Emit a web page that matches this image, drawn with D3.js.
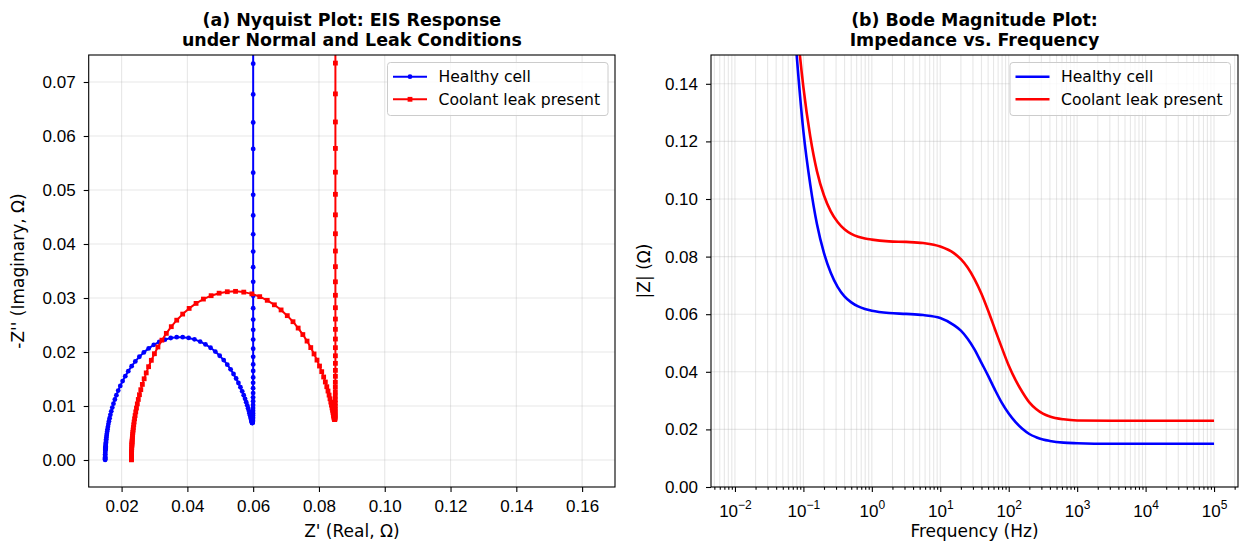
<!DOCTYPE html>
<html lang="en">
<head>
<meta charset="UTF-8">
<title>EIS Response: Nyquist and Bode</title>
<script src="https://d3js.org/d3.v7.min.js"></script>
<style>
    body {
        margin: 0;
        background: #ffffff;
    }

    svg {
        display: block;
        font-family: "DejaVu Sans", sans-serif;
    }

    .tick text {
        font-size: 17px;
        fill: #000;
    }

    .tick line {
        stroke: #000;
        stroke-width: 1.1;
    }

    .grid line {
        stroke: #b0b0b0;
        stroke-opacity: 0.3;
        stroke-width: 1.1;
    }

    .title {
        font-size: 17.4px;
        font-weight: bold;
        text-anchor: middle;
    }

    .axis-label {
        font-size: 17px;
        text-anchor: middle;
    }

    .legend text {
        font-size: 15.6px;
    }
</style>
</head>
<body>
<div id="chart"></div>
<script>
// Nyquist points, low frequency (top of the tail) first
const healthyReal = [
    0.0600, 0.0600, 0.0600, 0.0600, 0.0600, 0.0600, 0.0600, 0.0600, 0.0600, 0.0600,
    0.0600, 0.0600, 0.0600, 0.0600, 0.0600, 0.0600, 0.0600, 0.0600, 0.0600, 0.0600,
    0.0600, 0.0600, 0.05998, 0.05998, 0.05998, 0.05997, 0.05997, 0.05996, 0.05995, 0.05995,
    0.05994, 0.05993, 0.05991, 0.05990, 0.05988, 0.05986, 0.05984, 0.05981, 0.05977, 0.05973,
    0.05969, 0.05963, 0.05957, 0.05949, 0.05940, 0.05930, 0.05918, 0.05904, 0.05887, 0.05868,
    0.05845, 0.05819, 0.05789, 0.05754, 0.05713, 0.05667, 0.05613, 0.05552, 0.05482, 0.05403,
    0.05314, 0.05214, 0.05104, 0.04982, 0.04849, 0.04704, 0.04550, 0.04387, 0.04215, 0.04038,
    0.03857, 0.03675, 0.03494, 0.03316, 0.03144, 0.02979, 0.02823, 0.02676, 0.02541, 0.02417,
    0.02305, 0.02203, 0.02112, 0.02031, 0.01960, 0.01897, 0.01842, 0.01795, 0.01753, 0.01717,
    0.01686, 0.01659, 0.01636, 0.01616, 0.01599, 0.01585, 0.01572, 0.01562, 0.01552, 0.01545,
    0.01538, 0.01532, 0.01528, 0.01524, 0.01520, 0.01517, 0.01515, 0.01512, 0.01511, 0.01509,
    0.01508, 0.01506, 0.01504, 0.01502, 0.01501, 0.01501, 0.01500, 0.01500, 0.01500
];
const healthyImag = [
    0.0796, 0.0734, 0.0677, 0.0625, 0.0576, 0.0532, 0.0491, 0.0453, 0.0418, 0.0386,
    0.0357, 0.0330, 0.0304, 0.0281, 0.0260, 0.0241, 0.0223, 0.0206, 0.0191, 0.0177,
    0.0165, 0.0153, 0.0143, 0.0133, 0.0124, 0.0116, 0.0109, 0.0102, 0.00965, 0.00913,
    0.00867, 0.00827, 0.00792, 0.00762, 0.00738, 0.00718, 0.00702, 0.00692, 0.00686, 0.00684,
    0.00686, 0.00693, 0.00704, 0.00720, 0.00740, 0.00765, 0.00794, 0.00828, 0.00867, 0.00910,
    0.00958, 0.01012, 0.01069, 0.01132, 0.01199, 0.01271, 0.01347, 0.01426, 0.01509, 0.01593,
    0.01679, 0.01765, 0.01850, 0.01931, 0.02008, 0.02079, 0.02141, 0.02193, 0.02234, 0.02261,
    0.02275, 0.02274, 0.02259, 0.02229, 0.02187, 0.02132, 0.02067, 0.01993, 0.01912, 0.01826,
    0.01737, 0.01645, 0.01553, 0.01462, 0.01372, 0.01285, 0.01201, 0.01120, 0.01043, 0.00970,
    0.00901, 0.00836, 0.00775, 0.00718, 0.00665, 0.00615, 0.00569, 0.00526, 0.00486, 0.00449,
    0.00415, 0.00383, 0.00353, 0.00326, 0.00301, 0.00278, 0.00256, 0.00237, 0.00218, 0.00201,
    0.00186, 0.00171, 0.00135, 0.00106, 0.00076, 0.00051, 0.00034, 0.00015, 0.00002
];
const leakReal = [
    0.0850, 0.0850, 0.0850, 0.0850, 0.0850, 0.0850, 0.0850, 0.0850, 0.0850, 0.0850,
    0.0850, 0.0850, 0.0850, 0.0850, 0.0850, 0.0850, 0.0850, 0.0850, 0.0850, 0.0850,
    0.0850, 0.0850, 0.08498, 0.08498, 0.08498, 0.08497, 0.08497, 0.08496, 0.08495, 0.08494,
    0.08493, 0.08492, 0.08491, 0.08489, 0.08487, 0.08485, 0.08483, 0.08480, 0.08476, 0.08472,
    0.08467, 0.08461, 0.08454, 0.08446, 0.08437, 0.08426, 0.08413, 0.08398, 0.08380, 0.08360,
    0.08336, 0.08308, 0.08275, 0.08238, 0.08194, 0.08143, 0.08084, 0.08017, 0.07940, 0.07851,
    0.07751, 0.07638, 0.07510, 0.07368, 0.07211, 0.07037, 0.06849, 0.06645, 0.06428, 0.06199,
    0.05960, 0.05714, 0.05464, 0.05213, 0.04965, 0.04722, 0.04488, 0.04264, 0.04054, 0.03857,
    0.03676, 0.03511, 0.03360, 0.03226, 0.03105, 0.02998, 0.02904, 0.02821, 0.02749, 0.02686,
    0.02631, 0.02584, 0.02543, 0.02508, 0.02478, 0.02452, 0.02430, 0.02411, 0.02394, 0.02380,
    0.02369, 0.02358, 0.02350, 0.02342, 0.02336, 0.02331, 0.02326, 0.02322, 0.02319, 0.02316,
    0.02314, 0.02312, 0.02308, 0.02306, 0.02304, 0.02303, 0.02302, 0.02301, 0.02301, 0.02300,
    0.02300, 0.02300, 0.02300, 0.02300
];
const leakImag = [
    0.0796, 0.0735, 0.0678, 0.0626, 0.0577, 0.0533, 0.0492, 0.0454, 0.0419, 0.0387,
    0.0358, 0.0330, 0.0305, 0.0282, 0.0261, 0.0242, 0.0224, 0.0208, 0.0193, 0.0179,
    0.0166, 0.0155, 0.0144, 0.0135, 0.0126, 0.01184, 0.01114, 0.01051, 0.00995, 0.00946,
    0.00902, 0.00865, 0.00833, 0.00807, 0.00786, 0.00770, 0.00759, 0.00753, 0.00752, 0.00755,
    0.00764, 0.00777, 0.00796, 0.00819, 0.00848, 0.00882, 0.00921, 0.00965, 0.01016, 0.01072,
    0.01134, 0.01202, 0.01277, 0.01357, 0.01444, 0.01537, 0.01636, 0.01740, 0.01850, 0.01964,
    0.02082, 0.02202, 0.02323, 0.02443, 0.02561, 0.02673, 0.02779, 0.02874, 0.02957, 0.03025,
    0.03076, 0.03109, 0.03123, 0.03116, 0.03089, 0.03043, 0.02980, 0.02900, 0.02807, 0.02702,
    0.02589, 0.02469, 0.02345, 0.02219, 0.02093, 0.01968, 0.01846, 0.01728, 0.01613, 0.01504,
    0.01400, 0.01302, 0.01209, 0.01121, 0.01039, 0.00962, 0.00891, 0.00824, 0.00762, 0.00704,
    0.00651, 0.00601, 0.00555, 0.00513, 0.00473, 0.00437, 0.00403, 0.00372, 0.00343, 0.00317,
    0.00292, 0.00270, 0.00230, 0.00195, 0.00166, 0.00141, 0.00120, 0.00094, 0.00074, 0.00053,
    0.00036, 0.00024, 0.00011, 0.00003
];

// Bode magnitude
const bodeFreq = [
    0.0501, 0.0631, 0.0794, 0.1, 0.126, 0.158, 0.2, 0.251, 0.316, 0.398,
    0.501, 0.631, 0.794, 1, 1.78, 3.16, 5.62, 10, 15.8, 20,
    25.1, 31.6, 39.8, 50.1, 63.1, 79.4, 100, 126, 158, 200,
    251, 316, 398, 631, 1000, 3160, 10000, 100000
];
const healthyMag = [
    0.227, 0.184, 0.1506, 0.1235, 0.1050, 0.0912, 0.0812, 0.0744, 0.0695, 0.0662,
    0.0641, 0.0627, 0.0618, 0.0612, 0.0604, 0.0601, 0.0597, 0.0587, 0.0562, 0.0543,
    0.0515, 0.0478, 0.0432, 0.0386, 0.0337, 0.0292, 0.0255, 0.0225, 0.0202, 0.0184,
    0.0173, 0.0165, 0.0160, 0.0154, 0.0152, 0.0150, 0.0150, 0.0150
];
const leakMag = [
    0.235, 0.1936, 0.1622, 0.1388, 0.1217, 0.1096, 0.1012, 0.0957, 0.0920, 0.0895,
    0.0879, 0.0869, 0.0863, 0.0859, 0.0853, 0.0851, 0.0847, 0.0835, 0.0812, 0.0791,
    0.0762, 0.0722, 0.0672, 0.0612, 0.0547, 0.0483, 0.0422, 0.0371, 0.0330, 0.0294,
    0.0271, 0.0255, 0.0245, 0.0235, 0.0231, 0.0230, 0.0230, 0.0230
];

// ticks
const nyqXTicks = [0.02, 0.04, 0.06, 0.08, 0.10, 0.12, 0.14, 0.16];
const nyqYTicks = [0.00, 0.01, 0.02, 0.03, 0.04, 0.05, 0.06, 0.07];
const bodeYTicks = [0.00, 0.02, 0.04, 0.06, 0.08, 0.10, 0.12, 0.14];
const bodeDecades = [-2, -1, 0, 1, 2, 3, 4, 5];
const bodeMinorMults = [2, 3, 4, 5, 6, 7, 8, 9];

const seriesNames = ["Healthy cell", "Coolant leak present"];
const seriesColors = ["#0000ff", "#ff0000"];

const width = 1243, height = 547;
const nyq = { left: 88.7, right: 615, top: 55, bottom: 487 };
const bode = { left: 711, right: 1238, top: 55, bottom: 487 };
const mk = 2.4; // marker half size

const svg = d3.select("#chart")
    .append("svg")
    .attr("width", width)
    .attr("height", height);

// Scales
const xN = d3.scaleLinear().domain([0.01, 0.17]).range([nyq.left, nyq.right]);
const yN = d3.scaleLinear().domain([-0.005, 0.075]).range([nyq.bottom, nyq.top]);
const xB = d3.scaleLog().domain([Math.pow(10, -2.35), Math.pow(10, 5.35)]).range([bode.left, bode.right]);
const yB = d3.scaleLinear().domain([0, 0.15]).range([bode.bottom, bode.top]);

const bodeMajors = bodeDecades.map(p => Math.pow(10, p));
const bodeMinors = [];
for (let p = -3; p <= 5; p++) {
    bodeMinorMults.forEach(m => {
        const v = m * Math.pow(10, p);
        if (v >= xB.domain()[0] && v <= xB.domain()[1]) bodeMinors.push(v);
    });
}

// clip paths
const defs = svg.append("defs");
[["clipN", nyq], ["clipB", bode]].forEach(([id, b]) => {
    defs.append("clipPath").attr("id", id)
        .append("rect")
        .attr("x", b.left).attr("y", b.top)
        .attr("width", b.right - b.left).attr("height", b.bottom - b.top);
});

// ---------- (a) Nyquist ----------
const gN = svg.append("g");

const gridN = gN.append("g").attr("class", "grid");
gridN.selectAll(".gx").data(nyqXTicks).join("line")
    .attr("x1", d => xN(d)).attr("x2", d => xN(d))
    .attr("y1", nyq.top).attr("y2", nyq.bottom);
gridN.selectAll(".gy").data(nyqYTicks).join("line")
    .attr("class", "gy")
    .attr("x1", nyq.left).attr("x2", nyq.right)
    .attr("y1", d => yN(d)).attr("y2", d => yN(d));

gN.append("g")
    .attr("transform", `translate(0,${nyq.bottom})`)
    .call(d3.axisBottom(xN).tickValues(nyqXTicks).tickFormat(d3.format(".2f")).tickSize(5).tickPadding(8))
    .call(g => g.select(".domain").remove());

gN.append("g")
    .attr("transform", `translate(${nyq.left},0)`)
    .call(d3.axisLeft(yN).tickValues(nyqYTicks).tickFormat(d3.format(".2f")).tickSize(5).tickPadding(8))
    .call(g => g.select(".domain").remove());

const nyqSeries = [
    healthyReal.map((x, i) => [x, healthyImag[i]]),
    leakReal.map((x, i) => [x, leakImag[i]])
];

const plotN = gN.append("g").attr("clip-path", "url(#clipN)");
const lineN = d3.line().x(d => xN(d[0])).y(d => yN(d[1]));

nyqSeries.forEach((pts, s) => {
    plotN.append("path")
        .datum(pts)
        .attr("d", lineN)
        .attr("fill", "none")
        .attr("stroke", seriesColors[s])
        .attr("stroke-width", 2)
        .attr("stroke-linejoin", "round");

    if (s === 0) {
        plotN.append("g").selectAll("circle")
            .data(pts).join("circle")
            .attr("cx", d => xN(d[0]))
            .attr("cy", d => yN(d[1]))
            .attr("r", mk)
            .attr("fill", seriesColors[s]);
    } else {
        plotN.append("g").selectAll("rect")
            .data(pts).join("rect")
            .attr("x", d => xN(d[0]) - mk)
            .attr("y", d => yN(d[1]) - mk)
            .attr("width", 2 * mk)
            .attr("height", 2 * mk)
            .attr("fill", seriesColors[s]);
    }
});

gN.append("rect")
    .attr("x", nyq.left).attr("y", nyq.top)
    .attr("width", nyq.right - nyq.left).attr("height", nyq.bottom - nyq.top)
    .attr("fill", "none").attr("stroke", "#000").attr("stroke-width", 1.1);

// ---------- (b) Bode ----------
const gB = svg.append("g");

const gridB = gB.append("g").attr("class", "grid");
gridB.selectAll(".gx").data(bodeMajors.concat(bodeMinors)).join("line")
    .attr("class", "gx")
    .attr("x1", d => xB(d)).attr("x2", d => xB(d))
    .attr("y1", bode.top).attr("y2", bode.bottom);
gridB.selectAll(".gy").data(bodeYTicks).join("line")
    .attr("class", "gy")
    .attr("x1", bode.left).attr("x2", bode.right)
    .attr("y1", d => yB(d)).attr("y2", d => yB(d));

gB.append("g")
    .attr("transform", `translate(0,${bode.bottom})`)
    .call(d3.axisBottom(xB).tickValues(bodeMinors).tickFormat(() => "").tickSize(2.8))
    .call(g => g.select(".domain").remove())
    .selectAll("line").attr("stroke-width", 0.8);

const majorAxis = gB.append("g")
    .attr("transform", `translate(0,${bode.bottom})`)
    .call(d3.axisBottom(xB).tickValues(bodeMajors).tickFormat(() => "").tickSize(5))
    .call(g => g.select(".domain").remove());

majorAxis.selectAll(".tick").each(function (d, i) {
    const p = bodeDecades[i];
    const t = d3.select(this).select("text")
        .attr("y", 30)
        .attr("dy", null)
        .text(null);
    t.append("tspan").text("10");
    t.append("tspan")
        .attr("dy", -8)
        .style("font-size", "12px")
        .text((p < 0 ? "\u2212" : "") + Math.abs(p));
});

gB.append("g")
    .attr("transform", `translate(${bode.left},0)`)
    .call(d3.axisLeft(yB).tickValues(bodeYTicks).tickFormat(d3.format(".2f")).tickSize(5).tickPadding(8))
    .call(g => g.select(".domain").remove());

const plotB = gB.append("g").attr("clip-path", "url(#clipB)");
const lineB = d3.line()
    .x(d => xB(d[0]))
    .y(d => yB(d[1]))
    .curve(d3.curveMonotoneX);

[healthyMag, leakMag].forEach((mags, s) => {
    plotB.append("path")
        .datum(bodeFreq.map((f, i) => [f, mags[i]]))
        .attr("d", lineB)
        .attr("fill", "none")
        .attr("stroke", seriesColors[s])
        .attr("stroke-width", 2.6);
});

gB.append("rect")
    .attr("x", bode.left).attr("y", bode.top)
    .attr("width", bode.right - bode.left).attr("height", bode.bottom - bode.top)
    .attr("fill", "none").attr("stroke", "#000").attr("stroke-width", 1.1);

// ---------- titles and labels ----------
function title(cx, lines) {
    svg.append("text").attr("class", "title").attr("x", cx).attr("y", 26).text(lines[0]);
    svg.append("text").attr("class", "title").attr("x", cx).attr("y", 45.5).text(lines[1]);
}
title((nyq.left + nyq.right) / 2, ["(a) Nyquist Plot: EIS Response", "under Normal and Leak Conditions"]);
title((bode.left + bode.right) / 2, ["(b) Bode Magnitude Plot:", "Impedance vs. Frequency"]);

svg.append("text").attr("class", "axis-label")
    .attr("x", (nyq.left + nyq.right) / 2).attr("y", 536.5)
    .text("Z' (Real, \u03a9)");
svg.append("text").attr("class", "axis-label")
    .attr("x", (bode.left + bode.right) / 2).attr("y", 536.5)
    .text("Frequency (Hz)");
svg.append("text").attr("class", "axis-label")
    .attr("transform", `translate(24,${(nyq.top + nyq.bottom) / 2}) rotate(-90)`)
    .text("-Z'' (Imaginary, \u03a9)");
svg.append("text").attr("class", "axis-label")
    .attr("transform", `translate(650,${(bode.top + bode.bottom) / 2}) rotate(-90)`)
    .text("|Z| (\u03a9)");

// ---------- legends ----------
function legend(x0, boxW, withMarkers) {
    const lg = svg.append("g").attr("class", "legend");
    lg.append("rect")
        .attr("x", x0).attr("y", 62.5)
        .attr("width", boxW).attr("height", 53)
        .attr("rx", 3)
        .attr("fill", "#fff").attr("fill-opacity", 0.8)
        .attr("stroke", "#cccccc").attr("stroke-width", 1);
    seriesNames.forEach((name, i) => {
        const yy = 76.7 + i * 22.6;
        lg.append("line")
            .attr("x1", x0 + 5.5).attr("x2", x0 + 39.5)
            .attr("y1", yy).attr("y2", yy)
            .attr("stroke", seriesColors[i])
            .attr("stroke-width", withMarkers ? 2 : 2.6);
        if (withMarkers) {
            const mx = x0 + 22.5;
            if (i === 0) {
                lg.append("circle").attr("cx", mx).attr("cy", yy).attr("r", mk).attr("fill", seriesColors[i]);
            } else {
                lg.append("rect").attr("x", mx - mk).attr("y", yy - mk)
                    .attr("width", 2 * mk).attr("height", 2 * mk).attr("fill", seriesColors[i]);
            }
        }
        lg.append("text")
            .attr("x", x0 + 51).attr("y", yy + 5.6)
            .text(name);
    });
}
legend(387.5, 220.5, true);
legend(1010, 220.5, false);
</script>
</body>
</html>
